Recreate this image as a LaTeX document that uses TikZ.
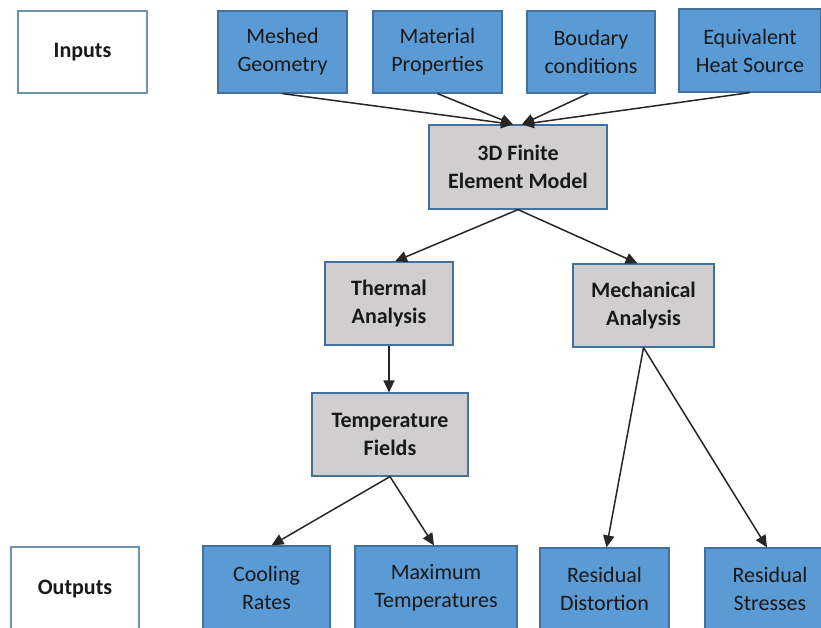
\documentclass[tikz,border=0pt]{standalone}
\usepackage{fontspec}
\setmainfont{Carlito}
\usetikzlibrary{arrows.meta}
\definecolor{boxblue}{HTML}{5B9BD5}
\definecolor{edgeblue}{HTML}{41719C}
\definecolor{boxgray}{HTML}{D0CECE}
\definecolor{labeledge}{HTML}{6F93B8}
\tikzset{
  base/.style={draw=edgeblue, line width=1.2pt, align=center, inner sep=0pt,
    font=\fontsize{22}{28}\selectfont, text=black!90},
  inbox/.style={base, fill=boxblue},
  graybox/.style={base, fill=boxgray, font=\fontsize{22}{28}\selectfont\bfseries},
  labelbox/.style={base, fill=white, draw=labeledge, font=\fontsize{22}{28}\selectfont\bfseries},
  conn/.style={-{Triangle[length=12pt,width=11pt]}, line width=1.5pt, black!85}
}
\begin{document}
\begin{tikzpicture}[x=1pt,y=-1pt]
\useasboundingbox (0,0) rectangle (821,628);
\clip (0,0) rectangle (821,628);
% top row
\node[labelbox, minimum width=129pt, minimum height=82pt] (inp) at (82.5,52) {Inputs};
\node[inbox, minimum width=129pt, minimum height=82pt] (mg) at (282.5,52) {Meshed\\Geometry};
\node[inbox, minimum width=129pt, minimum height=82pt] (mp) at (437.5,52) {Material\\Properties};
\node[inbox, minimum width=128pt, minimum height=82pt] (bc) at (591,52) {Boudary\\conditions};
\node[inbox, minimum width=142pt, minimum height=83pt] (eh) at (750,50.5) {Equivalent\\Heat Source};
% FEM
\node[graybox, minimum width=178pt, minimum height=84pt] (fem) at (518,167) {3D Finite\\Element Model};
% analyses
\node[graybox, minimum width=128pt, minimum height=83pt] (th) at (389,303.5) {Thermal\\Analysis};
\node[graybox, minimum width=141pt, minimum height=83pt] (me) at (643.5,305.5) {Mechanical\\Analysis};
\node[graybox, minimum width=156pt, minimum height=83pt] (tf) at (390,434.5) {Temperature\\Fields};
% bottom row
\node[labelbox, minimum width=128pt, minimum height=84pt] (out) at (75,589) {Outputs};
\node[inbox, minimum width=127pt, minimum height=84pt] (cr) at (266.5,588) {Cooling\\Rates};
\node[inbox, minimum width=162pt, minimum height=84pt] (mt) at (436,588) {Maximum\\Temperatures};
\node[inbox, minimum width=129pt, minimum height=82pt] (rd) at (604.5,589) {Residual\\Distortion};
\node[inbox, minimum width=130pt, minimum height=82pt] (rs) at (770,589) {Residual\\Stresses};
% connectors
\draw[conn] (mg.south) -- ([xshift=-5pt]fem.north);
\draw[conn] (mp.south) -- ([xshift=-5pt]fem.north);
\draw[conn] ([xshift=-3pt]bc.south) -- ([xshift=4pt]fem.north);
\draw[conn] (eh.south) -- ([xshift=4pt]fem.north);
\draw[conn] (fem.south) -- ([xshift=6pt]th.north);
\draw[conn] (fem.south) -- ([xshift=-6pt]me.north);
\draw[conn] (th.south) -- (tf.north -| th.south);
\draw[conn] (tf.south) -- ([xshift=5pt]cr.north);
\draw[conn] (tf.south) -- ([xshift=-2pt]mt.north);
\draw[conn] (me.south) -- ([xshift=2pt]rd.north);
\draw[conn] (me.south) -- ([xshift=-3pt]rs.north);
\end{tikzpicture}
\end{document}
